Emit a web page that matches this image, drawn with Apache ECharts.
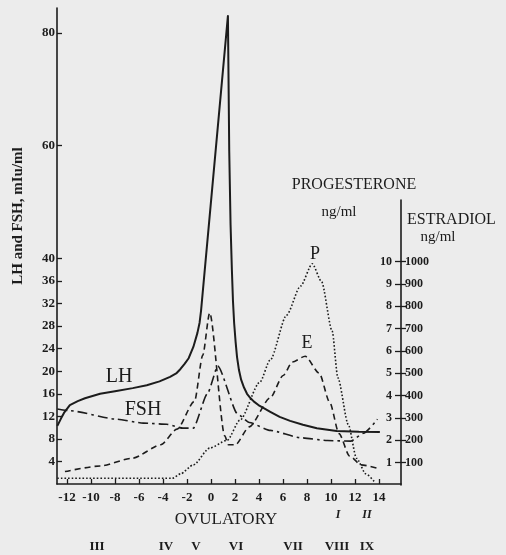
<!DOCTYPE html>
<html><head><meta charset="utf-8">
<script src="https://cdn.jsdelivr.net/npm/echarts@6/dist/echarts.min.js"></script>
<style>html,body{margin:0;padding:0;background:#ececec}#c{width:506px;height:555px}</style>
</head><body><div id="c"></div>
<script>
// ---- data (days from LH surge) ----
const dayTicks = [-12,-10,-8,-6,-4,-2,0,2,4,6,8,10,12,14];
const gonadTicks = [4,8,12,16,20,24,28,32,36,40,60,80];
const progTicks = [1,2,3,4,5,6,7,8,9,10];
const estrTicks = [100,200,300,400,500,600,700,800,900,1000];

// LH, mIU/ml
const lhDays   = [-12.8,-12.5,-12.25,-11.76,-11.1,-10.5,-9.24,-7.88,-6.52,-5.35,-4.29,-3.41,-2.9,-2.54,-2.2,-1.86,-1.47,-1.13,-0.95,-0.83,1.41,1.52,1.63,1.74,1.83,1.93,2.05,2.17,2.33,2.51,2.75,3.0,3.3,3.58,3.95,4.36,4.94,5.72,6.59,7.66,8.82,10.47,12.32,14.07];
const lhValues = [10.3,11.6,12.6,14.0,14.7,15.2,16.0,16.5,17.0,17.5,18.2,19.0,19.6,20.4,21.3,22.3,24.3,26.8,28.6,30.7,83,59,46,38,32.5,28.5,25.2,22.5,20.2,18.5,17.1,16.0,15.2,14.6,14.0,13.5,12.8,11.9,11.2,10.5,9.9,9.4,9.25,9.2];

// FSH, mIU/ml
const fshDays   = [-12.8,-11.76,-7.88,-5.64,-3.7,-2.34,-1.47,-0.3,0.57,2.22,3.19,4.94,7.46,9.7,11.64,12.71,13.87];
const fshValues = [13.3,13.0,11.5,10.8,10.6,9.9,9.9,16.0,20.9,12.4,10.9,9.5,8.2,7.7,7.6,9.0,11.5];

// Estradiol (right scale, x100)
const eDays   = [-12.17,-9.24,-6.52,-4.19,-2.83,-1.37,-0.69,-0.11,1.15,1.44,2.03,3.19,4.94,6.01,6.78,7.85,9.02,9.89,10.67,11.54,12.51,13.87];
const eValues = [0.6,0.85,1.2,1.8,2.5,3.75,5.8,7.7,2.2,1.8,1.8,2.6,3.9,4.9,5.5,5.76,5.0,3.7,2.3,1.3,0.9,0.75];

// Progesterone, ng/ml
const pDays   = [-12.8,-3.22,-2.54,-1.47,-0.11,1.35,2.41,4.07,4.94,6.3,7.46,8.44,9.21,10.09,10.57,11.44,12.12,12.9,13.68];
const pValues = [0.3,0.3,0.5,0.9,1.65,2.0,2.9,4.6,5.6,7.6,8.9,9.9,9.1,6.9,4.8,2.7,1.2,0.5,0.1];

const zip = (a, b) => a.map((v, i) => [v, b[i]]);
const ink = '#1c1c1c';
const serif = 'Liberation Serif';

const chart = echarts.init(document.getElementById('c'), null, {renderer: 'canvas'});
const lbl = {color: ink, fontFamily: serif, fontWeight: 'bold', fontSize: 13};
const T = (x, y, text, font, align, rot) => ({type: 'text', x: x, y: y, rotation: rot || 0,
  style: {text: text, fill: ink, font: font, align: align || 'center', verticalAlign: 'middle'}});

chart.setOption({
  animation: false,
  backgroundColor: '#ececec',
  grid: [
    {left: 57, right: 105, top: 8, bottom: 71},
    {left: 57, right: 105, top: 200, bottom: 70}
  ],
  xAxis: [
    {type: 'value', gridIndex: 0, min: -12.83, max: 15.83,
     axisLine: {show: true, onZero: false, lineStyle: {color: ink, width: 1.6}},
     axisTick: {show: true, inside: true, length: 5, customValues: dayTicks, lineStyle: {color: ink, width: 1.3}},
     axisLabel: Object.assign({customValues: dayTicks, margin: 7}, lbl),
     splitLine: {show: false}},
    {type: 'value', gridIndex: 1, min: -12.83, max: 15.83, show: false}
  ],
  yAxis: [
    {type: 'value', gridIndex: 0, position: 'left', min: 0, max: 84.4,
     axisLine: {show: true, onZero: false, lineStyle: {color: ink, width: 1.6}},
     axisTick: {show: true, inside: true, length: 5, customValues: gonadTicks, lineStyle: {color: ink, width: 1.3}},
     axisLabel: Object.assign({customValues: gonadTicks, margin: 2}, lbl),
     splitLine: {show: false}},
    {type: 'value', gridIndex: 1, position: 'right', min: 0, max: 12.75,
     axisLine: {show: true, onZero: false, lineStyle: {color: ink, width: 1.6}},
     axisTick: {show: true, inside: true, length: 6, customValues: progTicks, lineStyle: {color: ink, width: 1.3}},
     axisLabel: Object.assign({customValues: progTicks, inside: true, margin: 9}, lbl, {fontSize: 12}),
     splitLine: {show: false}},
    {type: 'value', gridIndex: 1, position: 'right', min: 0, max: 1275,
     axisLine: {show: false, onZero: false},
     axisTick: {show: true, inside: false, length: 5, customValues: estrTicks, lineStyle: {color: ink, width: 1.3}},
     axisLabel: Object.assign({customValues: estrTicks, margin: 4, formatter: v => String(v)}, lbl, {fontSize: 12}),
     splitLine: {show: false}}
  ],
  series: [
    {name: 'LH', type: 'line', xAxisIndex: 0, yAxisIndex: 0, data: zip(lhDays, lhValues),
     showSymbol: false, smooth: false,
     lineStyle: {color: ink, width: 2, join: 'round'}},
    {name: 'FSH', type: 'line', xAxisIndex: 0, yAxisIndex: 0, data: zip(fshDays, fshValues),
     showSymbol: false, smooth: 0.2, smoothMonotone: 'x',
     lineStyle: {color: ink, width: 1.6, type: [10, 4, 2.5, 4]}},
    {name: 'E', type: 'line', xAxisIndex: 1, yAxisIndex: 1, data: zip(eDays, eValues),
     showSymbol: false, smooth: 0.25, smoothMonotone: 'x',
     lineStyle: {color: ink, width: 1.6, type: [6, 4]}},
    {name: 'P', type: 'line', xAxisIndex: 1, yAxisIndex: 1, data: zip(pDays, pValues),
     showSymbol: false, smooth: 0.25, smoothMonotone: 'x',
     lineStyle: {color: ink, width: 1.6, type: [1.6, 2]}}
  ],
  graphic: [
    T(18, 216, 'LH and FSH, mIu/ml', 'bold 15px "Liberation Serif"', 'center', Math.PI / 2),
    T(119, 377, 'LH', '20px "Liberation Serif"'),
    T(143, 410, 'FSH', '20px "Liberation Serif"'),
    T(315, 254, 'P', '18px "Liberation Serif"'),
    T(307, 343, 'E', '18px "Liberation Serif"'),
    T(354, 185, 'PROGESTERONE', '16px "Liberation Serif"'),
    T(339, 212, 'ng/ml', '15px "Liberation Serif"'),
    T(407, 220, 'ESTRADIOL', '16px "Liberation Serif"', 'left'),
    T(438, 237, 'ng/ml', '15px "Liberation Serif"'),
    T(226, 520, 'OVULATORY', '17px "Liberation Serif"'),
    T(338, 515, 'I', 'bold italic 12px "Liberation Serif"'),
    T(367, 515, 'II', 'bold italic 12px "Liberation Serif"'),
    T(97, 547, 'III', 'bold 13px "Liberation Serif"'),
    T(166, 547, 'IV', 'bold 13px "Liberation Serif"'),
    T(196, 547, 'V', 'bold 13px "Liberation Serif"'),
    T(236, 547, 'VI', 'bold 13px "Liberation Serif"'),
    T(293, 547, 'VII', 'bold 13px "Liberation Serif"'),
    T(337, 547, 'VIII', 'bold 13px "Liberation Serif"'),
    T(367, 547, 'IX', 'bold 13px "Liberation Serif"')
  ]
});
</script>
</body></html>
